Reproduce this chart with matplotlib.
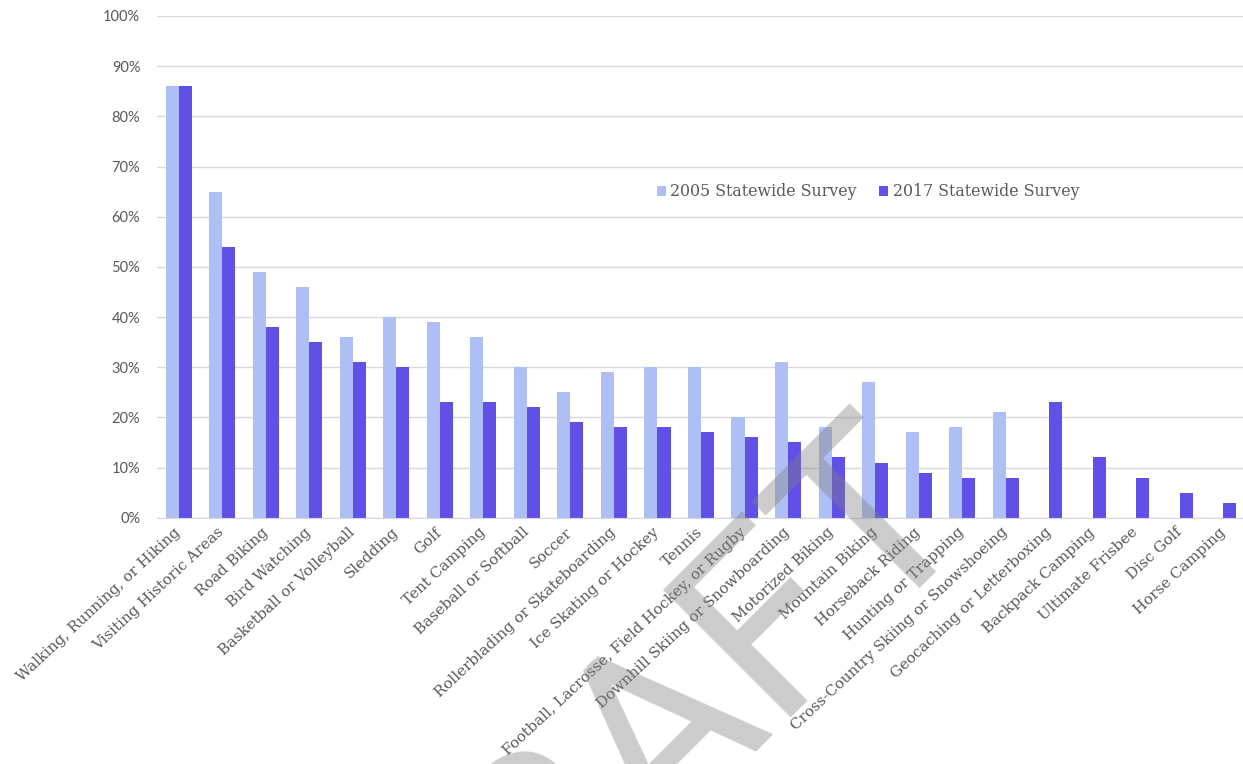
#!/usr/bin/env python3
# plot.py - outdoor recreation participation, 2005 vs 2017 survey

import matplotlib
matplotlib.use('Agg')
import matplotlib.pyplot as plt
import numpy as np

categories = [
    'Walking, Running, or Hiking', 'Visiting Historic Areas', 'Road Biking',
    'Bird Watching', 'Basketball or Volleyball', 'Sledding', 'Golf',
    'Tent Camping', 'Baseball or Softball', 'Soccer',
    'Rollerblading or Skateboarding', 'Ice Skating or Hockey', 'Tennis',
    'Football, Lacrosse, Field Hockey, or Rugby',
    'Downhill Skiing or Snowboarding', 'Motorized Biking', 'Mountain Biking',
    'Horseback Riding', 'Hunting or Trapping',
    'Cross-Country Skiing or Snowshoeing', 'Geocaching or Letterboxing',
    'Backpack Camping', 'Ultimate Frisbee', 'Disc Golf', 'Horse Camping',
]
survey_2005 = [86, 65, 49, 46, 36, 40, 39, 36, 30, 25, 29, 30, 30, 20, 31,
               18, 27, 17, 18, 21, np.nan, np.nan, np.nan, np.nan, np.nan]
survey_2017 = [86, 54, 38, 35, 31, 30, 23, 23, 22, 19, 18, 18, 17, 16, 15,
               12, 11, 9, 8, 8, 23, 12, 8, 5, 3]
series_names = ['2005 Statewide Survey', '2017 Statewide Survey']
yticks = list(range(0, 101, 10))

light = '#adbff4'
dark = '#6150e8'
grey_txt = '#595959'

W, H = 1243, 764
fig = plt.figure(figsize=(W / 100, H / 100), dpi=100)
ax = fig.add_axes([157 / W, 1 - 517.7 / H, (1245 - 157) / W, (517.7 - 16) / H])

x = np.arange(len(categories))
bw = 0.3
ax.bar(x - bw / 2, survey_2005, bw, color=light, label=series_names[0], zorder=2)
ax.bar(x + bw / 2, survey_2017, bw, color=dark, label=series_names[1], zorder=2)

ax.set_xlim(-0.5, len(categories) - 0.5)
ax.set_ylim(0, 100)
ax.set_yticks(yticks)
ax.set_yticklabels([f'{v}%' for v in yticks], fontsize=10.5, color=grey_txt,
                   family=['Lato', 'DejaVu Sans'])
ax.yaxis.grid(True, color='#d9d9d9', linewidth=1, zorder=0)
ax.set_axisbelow(True)

ax.set_xticks(x)
ax.set_xticklabels(categories, rotation=43, ha='right', va='center',
                   rotation_mode='anchor', fontsize=10.8, color=grey_txt,
                   family=['DejaVu Serif'])
ax.tick_params(axis='both', length=0)
ax.tick_params(axis='y', pad=12)
ax.tick_params(axis='x', pad=9)

for s in ['top', 'right', 'left']:
    ax.spines[s].set_visible(False)
ax.spines['bottom'].set_color('#d9d9d9')

leg = ax.legend(loc='center', bbox_to_anchor=(868 / W, 1 - 192 / H),
                bbox_transform=fig.transFigure, ncol=2, frameon=False,
                handlelength=0.55, handleheight=0.55, handletextpad=0.3,
                columnspacing=1.4, prop={'family': 'DejaVu Serif', 'size': 11.4})
for t in leg.get_texts():
    t.set_color(grey_txt)

# diagonal watermark, mostly running off the bottom edge
fig.text(975 / W, 1 - 511 / H, 'DRAFT', rotation=45, rotation_mode='anchor',
         ha='right', va='baseline', fontsize=182, color='#808080', alpha=0.4,
         family=['Roboto', 'DejaVu Sans'], zorder=10)

fig.savefig('out.png', dpi=100)
